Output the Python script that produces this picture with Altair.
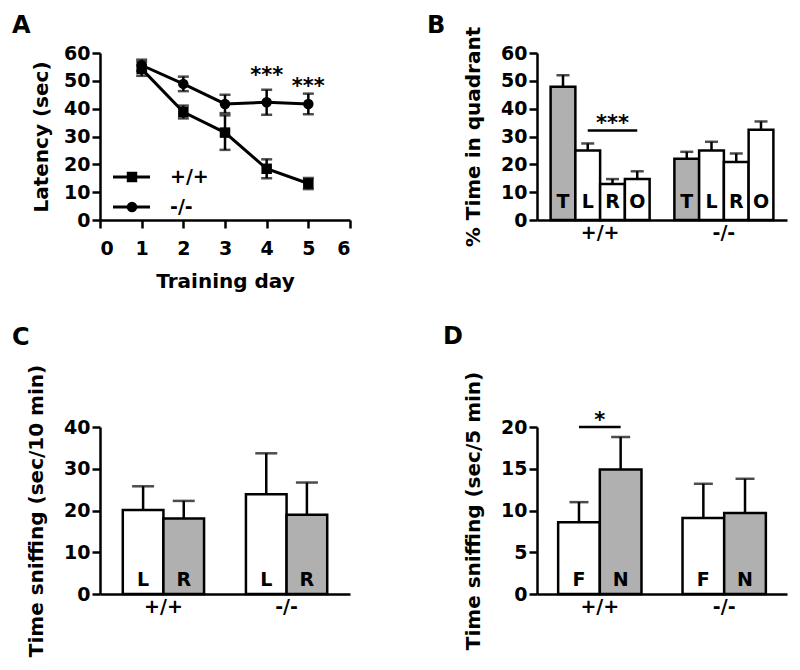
import altair as alt
import pandas as pd

FONT = "DejaVu Sans"
GRAY = "#b0b0b0"

# ---------------- data ----------------
days = [1, 2, 3, 4, 5]
genotypes = ["+/+", "-/-"]
wt_latency = [54.3, 38.8, 31.4, 18.4, 13.1]
wt_latency_err = [2.5, 2.3, 6.2, 3.4, 2.0]
ko_latency = [55.6, 48.9, 41.7, 42.3, 41.7]
ko_latency_err = [2.0, 2.6, 3.3, 4.5, 3.7]
a_sig_days = [4, 5]
a_sig_y = [49.5, 45.5]

quadrants = ["T", "L", "R", "O"]
b_wt = [47.9, 25.0, 12.9, 14.7]
b_wt_err = [4.1, 2.5, 1.8, 2.8]
b_ko = [22.0, 25.0, 20.8, 32.4]
b_ko_err = [2.5, 3.1, 3.1, 3.0]
b_sig_pair = ["L", "O"]
b_sig_y = 32.2

objects_c = ["L", "R"]
c_wt = [20.1, 18.1]
c_wt_err = [5.7, 4.2]
c_ko = [23.9, 19.0]
c_ko_err = [9.8, 7.7]

objects_d = ["F", "N"]
d_wt = [8.6, 14.9]
d_wt_err = [2.4, 3.9]
d_ko = [9.1, 9.7]
d_ko_err = [4.1, 4.1]
d_sig_y = 20.0

panel_labels = ["A", "B", "C", "D"]

# ---------------- tables ----------------
df_a = pd.DataFrame({
    "day": days * 2,
    "geno": ["+/+"] * 5 + ["-/-"] * 5,
    "mean": wt_latency + ko_latency,
    "err": wt_latency_err + ko_latency_err,
})
df_a["lo"] = df_a["mean"] - df_a["err"]
df_a["hi"] = df_a["mean"] + df_a["err"]
df_a_sig = pd.DataFrame({"day": a_sig_days, "y": a_sig_y, "t": ["***"] * 2})


def bar_table(cats, wt, wt_err, ko, ko_err):
    df = pd.DataFrame({
        "geno": ["+/+"] * len(cats) + ["-/-"] * len(cats),
        "cat": cats * 2,
        "mean": wt + ko,
        "err": wt_err + ko_err,
    })
    df["hi"] = df["mean"] + df["err"]
    return df


df_b = bar_table(quadrants, b_wt, b_wt_err, b_ko, b_ko_err)
df_c = bar_table(objects_c, c_wt, c_wt_err, c_ko, c_ko_err)
df_d = bar_table(objects_d, d_wt, d_wt_err, d_ko, d_ko_err)

LW = 2.5


def panel_label(letter, dx, dy):
    return alt.Chart(pd.DataFrame({"t": [letter]})).mark_text(
        font=FONT, fontWeight="bold", fontSize=24, align="left",
        baseline="alphabetic", color="black",
    ).encode(x=alt.value(dx), y=alt.value(dy), text="t:N")


# ---------------- panel A ----------------
def xa(field):
    return alt.X(field, type="quantitative", scale=alt.Scale(domain=[0, 6], nice=False),
                 axis=alt.Axis(values=[0, 1, 2, 3, 4, 5, 6], title="Training day",
                               titlePadding=13, labelPadding=11, labelOverlap=False))


def ya(field):
    return alt.Y(field, type="quantitative", scale=alt.Scale(domain=[0, 60], nice=False),
                 axis=alt.Axis(values=[0, 10, 20, 30, 40, 50, 60], title="Latency (sec)",
                               titlePadding=12, labelOverlap=False, tickCount=7))


base_a = alt.Chart(df_a)
a_line = base_a.mark_line(color="black", strokeWidth=3).encode(
    x=xa("day"), y=ya("mean"), detail="geno:N")
a_err = base_a.mark_rule(color="black", strokeWidth=LW).encode(
    x=xa("day"), y=ya("lo"), y2="hi:Q")
a_cap_hi = base_a.mark_tick(color="black", orient="horizontal", size=11, thickness=LW).encode(
    x=xa("day"), y=ya("hi"))
a_cap_lo = base_a.mark_tick(color="black", orient="horizontal", size=11, thickness=LW).encode(
    x=xa("day"), y=ya("lo"))
shape_scale = alt.Scale(domain=genotypes, range=["square", "circle"])
a_pts = base_a.mark_point(filled=True, color="black", opacity=1, size=110).encode(
    x=xa("day"), y=ya("mean"),
    shape=alt.Shape("geno:N", scale=shape_scale, legend=None))
a_sig = alt.Chart(df_a_sig).mark_text(
    font=FONT, fontWeight="bold", fontSize=21, baseline="alphabetic", color="black"
).encode(x=xa("day"), y=ya("y"), text="t:N")

# manual legend
leg_items = []
for i, g in enumerate(genotypes):
    yy = 124 + 30 * i
    d = alt.Chart(pd.DataFrame({"geno": [g]}))
    leg_items.append(d.mark_rule(color="black", strokeWidth=3).encode(
        x=alt.value(13), x2=alt.value(50), y=alt.value(yy)))
    leg_items.append(d.mark_point(filled=True, color="black", opacity=1, size=110).encode(
        x=alt.value(32), y=alt.value(yy),
        shape=alt.Shape("geno:N", scale=shape_scale, legend=None)))
    leg_items.append(d.mark_text(font=FONT, fontWeight="bold", fontSize=19, align="left",
                                 baseline="middle", color="black").encode(
        x=alt.value(70), y=alt.value(yy), text="geno:N"))

chart_a = alt.layer(a_line, a_err, a_cap_hi, a_cap_lo, a_pts, a_sig, *leg_items,
                    panel_label(panel_labels[0], -88, -20)).properties(width=250, height=167)


# ---------------- bar panels ----------------
def bar_panel(df, cats, gray_cat, ymax, ystep, ytitle, pin, pout, cap, letter_dy,
              label, ldx, ldy, sig=None):
    xg = alt.X("geno:N", sort=genotypes,
               scale=alt.Scale(domain=genotypes, paddingInner=pin, paddingOuter=pout),
               axis=alt.Axis(title=None, ticks=False, labelAngle=0, labelPadding=3))
    xo = alt.XOffset("cat:N", sort=cats, scale=alt.Scale(domain=cats))
    vals = list(range(0, ymax + 1, ystep))

    def yv(field):
        return alt.Y(field, type="quantitative", scale=alt.Scale(domain=[0, ymax], nice=False),
                     axis=alt.Axis(values=vals, title=ytitle, titlePadding=17,
                                   labelOverlap=False, tickCount=len(vals)))

    base = alt.Chart(df).transform_calculate(zero="0")
    err = base.mark_rule(color="black", strokeWidth=LW).encode(
        x=xg, xOffset=xo, y=yv("mean"), y2="hi:Q")
    capm = base.mark_tick(color="black", orient="horizontal", size=cap, thickness=LW).encode(
        x=xg, xOffset=xo, y=yv("hi"))
    bars = base.transform_calculate(
        fillc=f"datum.cat === '{gray_cat}' ? '{GRAY}' : 'white'"
    ).mark_bar(stroke="black", strokeWidth=LW, opacity=1).encode(
        x=xg, xOffset=xo, y=yv("mean"), fill=alt.Fill("fillc:N", scale=None))
    letters = base.mark_text(font=FONT, fontWeight="bold", fontSize=19, color="black",
                             baseline="alphabetic", dy=letter_dy).encode(
        x=xg, xOffset=xo, y=yv("zero"), text="cat:N")
    layers = [bars, err, capm, letters]
    if sig is not None:
        layers += sig(xg, xo, yv)
    layers.append(panel_label(label, ldx, ldy))
    return alt.layer(*layers).properties(width=250, height=167)


def sig_b(xg, xo, yv):
    d = pd.DataFrame({"geno": ["+/+"] * 2, "cat": b_sig_pair, "y": [b_sig_y] * 2})
    line = alt.Chart(d).mark_line(color="black", strokeWidth=LW).encode(
        x=xg, xOffset=xo, y=yv("y"))
    t = alt.Chart(pd.DataFrame({"geno": ["+/+"], "cat": ["R"], "y": [b_sig_y], "t": ["***"]})).mark_text(
        font=FONT, fontWeight="bold", fontSize=21, baseline="alphabetic", color="black").encode(
        x=xg, xOffset=xo, y=yv("y"), text="t:N")
    return [line, t]


def sig_d(xg, xo, yv):
    d = pd.DataFrame({"geno": ["+/+"] * 2, "cat": objects_d, "y": [d_sig_y] * 2})
    line = alt.Chart(d).mark_line(color="black", strokeWidth=LW).encode(
        x=xg, xOffset=xo, y=yv("y"))
    t = alt.Chart(pd.DataFrame({"geno": ["+/+"], "y": [d_sig_y], "t": ["*"]})).mark_text(
        font=FONT, fontWeight="bold", fontSize=21, baseline="alphabetic", color="black").encode(
        x=xg, y=yv("y"), text="t:N")
    return [line, t]


chart_b = bar_panel(df_b, quadrants, "T", 60, 10, "% Time in quadrant", 0.2, 0.11, 13, -12,
                    panel_labels[1], -110, -20, sig_b)
chart_c = bar_panel(df_c, objects_c, "R", 40, 10, "Time sniffing (sec/10 min)", 0.34, 0.185, 22, -8,
                    panel_labels[2], -88, -82)
chart_d = bar_panel(df_d, objects_d, "N", 20, 5, "Time sniffing (sec/5 min)", 0.33, 0.17, 19, -8,
                    panel_labels[3], -94, -83, sig_d)

indep = dict(xOffset="independent", shape="independent",
             x="independent", y="independent")
top = alt.hconcat(chart_a, chart_b, spacing=187, bounds="flush").resolve_scale(**indep)
bottom = alt.hconcat(chart_c, chart_d, spacing=187, bounds="flush").resolve_scale(**indep)
chart = alt.vconcat(top, bottom, spacing=374, bounds="flush").resolve_scale(**indep).properties(
    padding={"left": 4, "top": 6, "right": 5, "bottom": 5}
).configure_view(stroke=None).configure_axis(
    domainColor="black", domainWidth=LW, tickColor="black", tickWidth=LW, tickSize=8,
    labelFont=FONT, labelFontWeight="bold", labelFontSize=19, labelColor="black",
    titleFont=FONT, titleFontWeight="bold", titleFontSize=20, titleColor="black",
    grid=False, labelOverlap=False,
)

chart.save("out.html", embed_options={"renderer": "svg", "actions": False})
